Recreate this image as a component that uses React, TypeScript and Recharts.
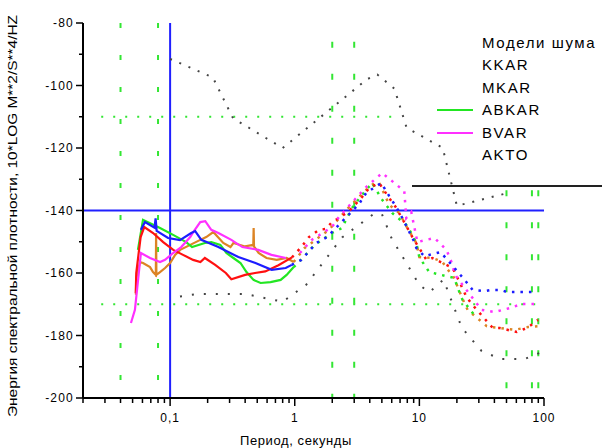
import React from 'react';
import { LineChart, Line, XAxis, YAxis, ReferenceLine } from 'recharts';

type Pt = [number, number];

// axis ticks
const xMajorTicks = [0.1, 1, 10, 100];
const xMinorTicks = [
  0.02, 0.03, 0.04, 0.05, 0.06, 0.07, 0.08, 0.09,
  0.2, 0.3, 0.4, 0.5, 0.6, 0.7, 0.8, 0.9,
  2, 3, 4, 5, 6, 7, 8, 9,
  20, 30, 40, 50, 60, 70, 80, 90,
];
const yMajorTicks = [-200, -180, -160, -140, -120, -100, -80];
const yMinorTicks = [-190, -170, -150, -130, -110, -90];

// noise models (period s, dB)
const highModel: Pt[] = [
  [0.1, -91.5], [0.22, -97.4], [0.32, -110.5], [0.8, -120], [3.8, -98], [4.6, -96.5],
  [6.3, -101], [7.9, -113.5], [15.4, -120], [20, -138.5], [50, -134.5],
];
const lowModel: Pt[] = [
  [0.12, -167.5], [0.17, -166.7], [0.4, -166.7], [0.8, -169.2], [1.24, -163.7], [2.4, -148.6],
  [4.3, -141.1], [5, -141.1], [6, -149], [10, -163.8], [12, -166.2], [15.6, -162.1],
  [21.9, -177.5], [31.6, -185], [45, -187.5], [70, -187.5], [100, -185],
];

// stations
const kkar: Pt[] = [
  [0.0583, -146.2], [0.0628, -143.7], [0.075, -145.5], [0.0765, -142.5], [0.078, -146.5],
  [0.0963, -148.8], [0.12, -149.5], [0.1477, -147.2], [0.159, -146.6], [0.178, -149.4],
  [0.244, -151.7], [0.353, -154.9], [0.484, -156.8], [0.653, -159], [0.846, -158.4],
  [0.946, -157.4], [1.13, -155.8], [1.49, -150.4], [1.82, -148.5], [3.28, -137.9],
  [3.74, -134.4], [4.94, -131.2], [5.73, -135.4], [6.53, -138.9], [7.3, -142.4],
  [9.12, -150.1], [9.46, -152], [10.97, -154.6], [14.8, -153.3], [23.1, -162.2],
  [26.7, -165.4], [33.4, -165.8], [38.1, -165.4], [45, -165.4], [50.3, -166.1], [84.6, -166.1],
];
const mkar: Pt[] = [
  [0.053, -166.5], [0.0535, -160], [0.058, -148.5], [0.062, -145.3], [0.073, -147.2],
  [0.088, -150.1], [0.106, -152.6], [0.127, -154.2], [0.153, -155.8], [0.175, -156.5],
  [0.19, -155.2], [0.23, -157.4], [0.28, -160], [0.31, -162], [0.4, -160.6], [0.48, -160],
  [0.58, -159.5], [0.74, -157.5], [0.95, -155], [1.14, -151.5], [1.3, -148.5], [1.56, -146.2],
  [1.78, -145.9], [1.99, -143.7], [2.26, -142.4], [2.73, -140.2], [3.47, -135.7], [3.95, -132.8],
  [4.75, -131.2], [5.73, -136], [6.53, -139.2], [8.79, -148.5], [11.4, -155.8], [12.7, -155.2],
  [18.5, -158.4], [21, -162.9], [23.9, -167.7], [26.3, -169.9], [38.8, -177.6], [44.2, -177.6],
  [60.6, -178.9], [72.9, -177.6], [89.5, -175],
];
const abkar: Pt[] = [
  [0.0552, -152.6], [0.0606, -143], [0.083, -145.6], [0.1057, -147.8], [0.1346, -150.1],
  [0.15, -151.7], [0.19, -150.4], [0.214, -150.1], [0.253, -151], [0.283, -153.6],
  [0.322, -155.2], [0.367, -156.8], [0.41, -159.7], [0.467, -162.2], [0.532, -163.2],
  [0.64, -162.9], [0.771, -162.2], [0.861, -160.6], [0.981, -158.1], [1.18, -154.9],
  [1.371, -152], [1.562, -150.1], [1.988, -147.2], [2.39, -145.6], [2.88, -139.2],
  [3.47, -135], [4.18, -131.2], [5.03, -136.6], [6.05, -140.8], [7.85, -144.6], [8.79, -147.8],
  [9.46, -150.4], [10, -155], [12, -159.7], [19.1, -161.6], [20.2, -164.5], [22.2, -168.6],
  [28.8, -174.4],
];
const bvar: Pt[] = [
  [0.0485, -176], [0.0522, -171.8], [0.0583, -153.6], [0.069, -155.2], [0.083, -156.5],
  [0.0911, -155.8], [0.1057, -153.6], [0.1227, -151.7], [0.145, -148.5], [0.1533, -146.9],
  [0.1746, -143.7], [0.1915, -143.4], [0.214, -146.2], [0.244, -147.2], [0.31, -149.4],
  [0.38, -151.7], [0.51, -152.6], [0.65, -154.2], [0.85, -155.2], [1.1, -153.6], [1.37, -149.4],
  [1.99, -145.3], [2.26, -142.1], [3.74, -132.5], [5.03, -128], [7.57, -133.8], [7.85, -142.4],
  [8.61, -140.5], [9.64, -150.1], [13.2, -148.8], [16.5, -152.6], [18.1, -156.5], [19.1, -159.7],
  [19.9, -161.3], [31.6, -171.8], [40.3, -172.5], [46.7, -171.8], [53.2, -171.2], [66.5, -169.9],
  [87.8, -169.9],
];
const akto: Pt[] = [
  [0.0532, -167], [0.0535, -161.6], [0.0573, -156.5], [0.0606, -156.8], [0.069, -158.1],
  [0.0729, -159.7], [0.0768, -160.6], [0.0772, -147.2], [0.0776, -160.6], [0.083, -159.7],
  [0.0911, -158.4], [0.1, -156.8], [0.1097, -154.2], [0.1204, -152.6], [0.145, -151],
  [0.1746, -149.4], [0.195, -148.5], [0.222, -146.9], [0.267, -150.4], [0.305, -151.7],
  [0.322, -150.4], [0.4, -151.5], [0.465, -151], [0.468, -145.6], [0.471, -151.5],
  [0.513, -153.6], [0.594, -155.2], [0.716, -155.8], [0.861, -155.2], [0.981, -156.5],
  [1.2, -152], [1.88, -146.2], [2.725, -138.9], [4.1, -131.8], [4.75, -131], [5.73, -138.2],
  [6.9, -140.8], [8, -145.6], [9.46, -150.4], [10, -154.9], [12.7, -155.2], [14, -155.8],
  [15.3, -156.5], [17.5, -159.7], [18.5, -160.6], [23.1, -169.9], [24.4, -171.8], [34.7, -177],
  [38.1, -177.3], [44.2, -177.6], [58.3, -178.2], [74.3, -177.3], [92.9, -177],
];

const legendNames = ['Модели шума', 'KKAR', 'MKAR', 'ABKAR', 'BVAR', 'AKTO'];

const stations = [
  { name: 'AKTO', pts: akto, color: '#dc8424' },
  { name: 'ABKAR', pts: abkar, color: '#22e622' },
  { name: 'MKAR', pts: mkar, color: '#ff1010' },
  { name: 'BVAR', pts: bvar, color: '#ff30ff' },
  { name: 'KKAR', pts: kkar, color: '#1c1cff' },
];

const FONT = '"Liberation Sans", Arial, sans-serif';
const GRID = '#33e633';
const toRows = (pts: Pt[]) => pts.map(([x, y]) => ({ x, y }));
const fmtX = (v: number) => String(v).replace('.', ',');

const XTick = (props: any) => {
  const { x, y, payload } = props;
  const major = xMajorTicks.includes(payload.value);
  return (
    <g>
      <line x1={x} x2={x} y1={y} y2={y + (major ? 8 : 5)} stroke="#000" strokeWidth={1.5} />
      {major && (
        <text x={x} y={y + 24} textAnchor="middle" fontSize={12} letterSpacing={1} fontFamily={FONT} fill="#000">
          {fmtX(payload.value)}
        </text>
      )}
    </g>
  );
};

const YTick = (props: any) => {
  const { x, y, payload } = props;
  const major = yMajorTicks.includes(payload.value);
  return (
    <g>
      <line x1={x} x2={x - (major ? 7 : 4)} y1={y} y2={y} stroke="#000" strokeWidth={1.5} />
      {major && (
        <text x={x - 9} y={y + 4} textAnchor="end" fontSize={12} letterSpacing={1.2} fontFamily={FONT} fill="#000">
          {payload.value}
        </text>
      )}
    </g>
  );
};

const App: React.FC = () => (
  <div style={{ position: 'absolute', left: 0, top: 0, width: 602, height: 448, background: '#fff' }}>
    <LineChart width={602} height={448} margin={{ top: 23, right: 58, bottom: 0, left: 0 }}>
      <XAxis
        type="number"
        dataKey="x"
        scale="log"
        domain={[0.02, 100]}
        allowDataOverflow
        ticks={[...xMinorTicks, ...xMajorTicks].sort((a, b) => a - b)}
        interval={0}
        tickSize={0}
        tickMargin={0}
        tickLine={false}
        tick={<XTick />}
        axisLine={{ stroke: '#000', strokeWidth: 2 }}
        height={50}
      />
      <YAxis
        type="number"
        domain={[-200, -80]}
        allowDataOverflow
        ticks={[...yMajorTicks, ...yMinorTicks].sort((a, b) => a - b)}
        interval={0}
        tickSize={0}
        tickMargin={0}
        tickLine={false}
        tick={<YTick />}
        axisLine={{ stroke: '#000', strokeWidth: 2 }}
        width={83}
      />

      {/* green band markers */}
      {[0.04, 0.08].map(v => (
        <ReferenceLine key={'a' + v} segment={[{ x: v, y: -80 }, { x: v, y: -200 }]} stroke={GRID} strokeWidth={2} strokeDasharray="5 27" />
      ))}
      {[2, 3].map(v => (
        <ReferenceLine key={'b' + v} segment={[{ x: v, y: -86 }, { x: v, y: -200 }]} stroke={GRID} strokeWidth={2} strokeDasharray="6 26" />
      ))}
      {[50, 80, 90].map(v => (
        <ReferenceLine key={'c' + v} segment={[{ x: v, y: -133.5 }, { x: v, y: -200 }]} stroke={GRID} strokeWidth={2} strokeDasharray="6 26" />
      ))}
      <ReferenceLine segment={[{ x: 0.028, y: -110 }, { x: 6, y: -110 }]} stroke={GRID} strokeWidth={2} strokeDasharray="2 10" />
      <ReferenceLine segment={[{ x: 0.028, y: -170 }, { x: 100, y: -170 }]} stroke={GRID} strokeWidth={2} strokeDasharray="2 10" />

      <ReferenceLine x={0.1} stroke="#2020ff" strokeWidth={2} />
      <ReferenceLine y={-140} stroke="#2020ff" strokeWidth={2} />

      <Line data={toRows(highModel)} dataKey="y" stroke="#444" strokeWidth={2} strokeDasharray="2 8" dot={false} isAnimationActive={false} />
      <Line data={toRows(lowModel)} dataKey="y" stroke="#444" strokeWidth={2} strokeDasharray="2 10" dot={false} isAnimationActive={false} />

      {stations.map(s => (
        <Line
          key={s.name + '-near'}
          data={toRows(s.pts.filter(p => p[0] <= 1))}
          dataKey="y"
          stroke={s.color}
          strokeWidth={2.2}
          dot={false}
          isAnimationActive={false}
        />
      ))}
      {stations.map(s => (
        <Line
          key={s.name + '-far'}
          data={toRows(s.pts.filter(p => p[0] >= 0.9))}
          dataKey="y"
          stroke={s.color}
          strokeWidth={2.5}
          strokeDasharray="2.5 6"
          dot={false}
          isAnimationActive={false}
        />
      ))}
    </LineChart>

    <svg width={602} height={448} style={{ position: 'absolute', left: 0, top: 0, pointerEvents: 'none' }}>
      <text
        transform="translate(17 216) rotate(-90)"
        textAnchor="middle"
        fontSize={12}
        fontFamily={FONT}
        fill="#000"
        textLength={402}
        lengthAdjust="spacingAndGlyphs"
      >
        Энергия спектральной плотности, 10*LOG M**2/S**4/HZ
      </text>
      <text x={296} y={445} textAnchor="middle" fontSize={13} letterSpacing={0.6} fontFamily={FONT} fill="#000">
        Период, секунды
      </text>

      {legendNames.map((n, i) => (
        <text key={n} x={482} y={48 + i * 22.4} fontSize={15} letterSpacing={1.6} fontFamily={FONT} fill="#000">
          {n}
        </text>
      ))}
      <line x1={437} x2={473} y1={110} y2={110} stroke="#22e622" strokeWidth={2} />
      <line x1={437} x2={473} y1={133} y2={133} stroke="#ff30ff" strokeWidth={2} />
      <line x1={412} x2={602} y1={186} y2={186} stroke="#222" strokeWidth={2} />
    </svg>
  </div>
);

export default App;
